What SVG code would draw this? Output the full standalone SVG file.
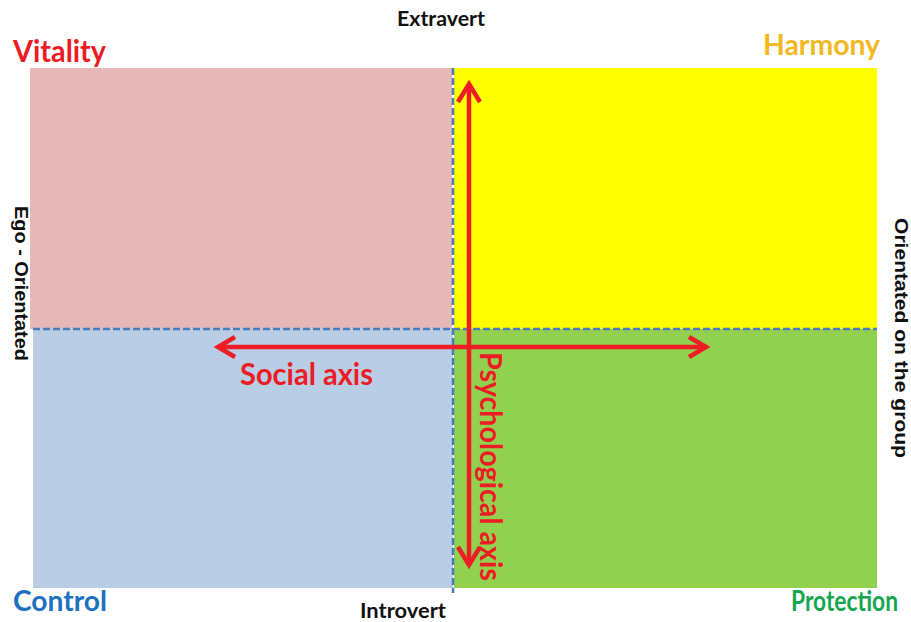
<svg xmlns="http://www.w3.org/2000/svg" width="911" height="622" viewBox="0 0 911 622">
<style>
.lbl{font-family:Lato,"Open Sans","Liberation Sans",sans-serif;font-weight:bold}
.side{font-family:"Liberation Sans",Arial,sans-serif;font-weight:bold;font-size:19px;fill:#111}
.red{fill:#EC1C24;font-size:30px}
.axis{stroke:#EE1C24;stroke-width:4.5;fill:none}
.head{stroke:#EE1C24;stroke-width:4.5;fill:none;stroke-linejoin:miter;stroke-linecap:butt}
.dash{stroke:#4A7EBB;stroke-width:2.6;stroke-dasharray:7 3;fill:none}
</style>
<rect width="911" height="622" fill="#fff"/>
<g id="quad-vitality"><rect x="30" y="68" width="422" height="261" fill="#E6B9B8"/></g>
<g id="quad-harmony"><rect x="454" y="68" width="423" height="261" fill="#FFFF00"/></g>
<g id="quad-control"><rect x="33" y="329" width="420" height="259" fill="#B9CDE5"/></g>
<g id="quad-protection"><rect x="454" y="329" width="423" height="259" fill="#92D050"/></g>
<g id="connectors">
<line class="dash" x1="453" y1="68" x2="453" y2="593"/>
<line class="dash" x1="33" y1="329" x2="877" y2="329"/>
<line class="axis" x1="469" y1="86" x2="469" y2="563"/>
<polyline class="head" points="458,102 469,84 480,102"/>
<polyline class="head" points="458,547 469,565 480,547"/>
<line class="axis" x1="220" y1="347" x2="704" y2="347"/>
<polyline class="head" points="235,337 218,347 235,357"/>
<polyline class="head" points="689,337 706,347 689,357"/>
</g>
<g id="label-vitality"><text class="lbl red" x="13" y="62" textLength="93" lengthAdjust="spacingAndGlyphs">Vitality</text></g>
<g id="label-harmony"><text class="lbl" x="763" y="55" font-size="29" fill="#F2B91E" textLength="117" lengthAdjust="spacingAndGlyphs">Harmony</text></g>
<g id="label-control"><text class="lbl" x="13" y="611" font-size="29" fill="#1C72BE" textLength="94" lengthAdjust="spacingAndGlyphs">Control</text></g>
<g id="label-protection"><text class="lbl" transform="translate(791,611) scale(1,1.26)" font-size="23" fill="#15A650" textLength="107" lengthAdjust="spacingAndGlyphs">Protection</text></g>
<g id="label-extravert"><text class="lbl" x="397" y="26" font-size="20" fill="#111" textLength="88" lengthAdjust="spacingAndGlyphs">Extravert</text></g>
<g id="label-introvert"><text class="lbl" x="360" y="618" font-size="20" fill="#111" textLength="86" lengthAdjust="spacingAndGlyphs">Introvert</text></g>
<g id="label-ego"><text class="side" transform="translate(15,206) rotate(90)" textLength="155" lengthAdjust="spacingAndGlyphs">Ego - Orientated</text></g>
<g id="label-group"><text class="side" transform="translate(895,218) rotate(90)" textLength="240" lengthAdjust="spacingAndGlyphs">Orientated on the group</text></g>
<g id="label-social"><text class="lbl red" x="240" y="385" textLength="133" lengthAdjust="spacingAndGlyphs">Social axis</text></g>
<g id="label-psych"><text class="lbl red" transform="translate(480,352) rotate(90)" textLength="229" lengthAdjust="spacingAndGlyphs">Psychological axis</text></g>
</svg>
